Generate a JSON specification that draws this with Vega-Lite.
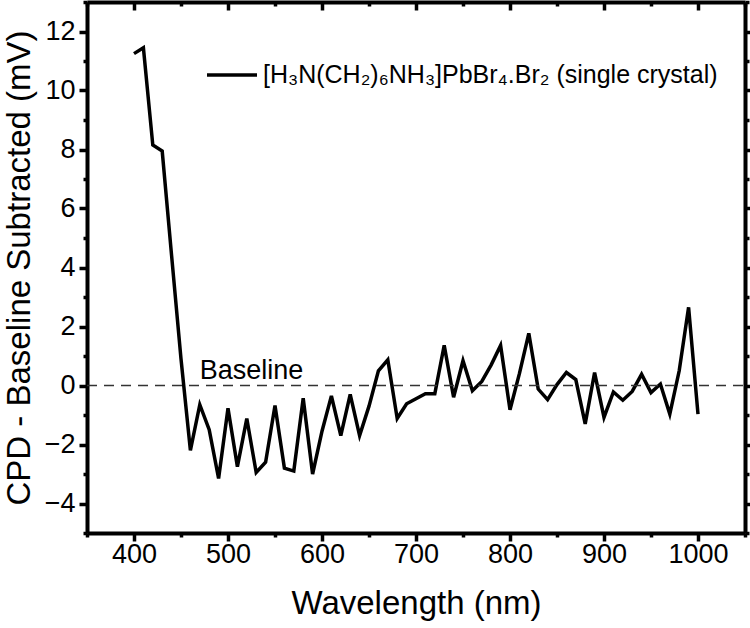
{
  "$schema": "https://vega.github.io/schema/vega-lite/v6.json",
  "width": 658,
  "height": 531,
  "autosize": "none",
  "padding": {"left": 87, "top": 2, "right": 5, "bottom": 95},
  "background": "white",
  "config": {
    "view": {"stroke": null},
    "font": "Liberation Sans",
    "axis": {
      "domainColor": "black",
      "domainWidth": 4,
      "tickColor": "black",
      "tickWidth": 3.5,
      "labelColor": "black",
      "titleColor": "black",
      "grid": false,
      "labelFont": "Liberation Sans",
      "titleFont": "Liberation Sans",
      "titleFontWeight": "normal",
      "labelFontSize": 27,
      "titleFontSize": 33
    }
  },
  "data": {
    "values": [
      {"wavelength": 400, "cpd": 11.25},
      {"wavelength": 410, "cpd": 11.45},
      {"wavelength": 420, "cpd": 8.15},
      {"wavelength": 430, "cpd": 7.95},
      {"wavelength": 440, "cpd": 4.4},
      {"wavelength": 450, "cpd": 0.9},
      {"wavelength": 460, "cpd": -2.2},
      {"wavelength": 470, "cpd": -0.65},
      {"wavelength": 480, "cpd": -1.5},
      {"wavelength": 490, "cpd": -3.15},
      {"wavelength": 500, "cpd": -0.77},
      {"wavelength": 510, "cpd": -2.75},
      {"wavelength": 520, "cpd": -1.12},
      {"wavelength": 530, "cpd": -2.95},
      {"wavelength": 540, "cpd": -2.6},
      {"wavelength": 550, "cpd": -0.68},
      {"wavelength": 560, "cpd": -2.8},
      {"wavelength": 570, "cpd": -2.9},
      {"wavelength": 580, "cpd": -0.43},
      {"wavelength": 590, "cpd": -3.0},
      {"wavelength": 600, "cpd": -1.55},
      {"wavelength": 610, "cpd": -0.35},
      {"wavelength": 620, "cpd": -1.7},
      {"wavelength": 630, "cpd": -0.3},
      {"wavelength": 640, "cpd": -1.7},
      {"wavelength": 650, "cpd": -0.7},
      {"wavelength": 660, "cpd": 0.5},
      {"wavelength": 670, "cpd": 0.87},
      {"wavelength": 680, "cpd": -1.12},
      {"wavelength": 690, "cpd": -0.62},
      {"wavelength": 700, "cpd": -0.45},
      {"wavelength": 710, "cpd": -0.28},
      {"wavelength": 720, "cpd": -0.28},
      {"wavelength": 730, "cpd": 1.36},
      {"wavelength": 740, "cpd": -0.4},
      {"wavelength": 750, "cpd": 0.84},
      {"wavelength": 760, "cpd": -0.18},
      {"wavelength": 770, "cpd": 0.14},
      {"wavelength": 780, "cpd": 0.7},
      {"wavelength": 790, "cpd": 1.36},
      {"wavelength": 800, "cpd": -0.82},
      {"wavelength": 810, "cpd": 0.4},
      {"wavelength": 820, "cpd": 1.77},
      {"wavelength": 830, "cpd": -0.12},
      {"wavelength": 840, "cpd": -0.48},
      {"wavelength": 850, "cpd": 0.03},
      {"wavelength": 860, "cpd": 0.44},
      {"wavelength": 870, "cpd": 0.2},
      {"wavelength": 880, "cpd": -1.3},
      {"wavelength": 890, "cpd": 0.44},
      {"wavelength": 900, "cpd": -1.08},
      {"wavelength": 910, "cpd": -0.22},
      {"wavelength": 920, "cpd": -0.5},
      {"wavelength": 930, "cpd": -0.2},
      {"wavelength": 940, "cpd": 0.38},
      {"wavelength": 950, "cpd": -0.24},
      {"wavelength": 960, "cpd": 0.05},
      {"wavelength": 970, "cpd": -0.97},
      {"wavelength": 980, "cpd": 0.5},
      {"wavelength": 990, "cpd": 2.65},
      {"wavelength": 1000, "cpd": -0.97}
    ]
  },
  "resolve": {"axis": {"x": "independent", "y": "independent"}},
  "layer": [
    {
      "mark": {"type": "line", "strokeWidth": 3.5, "strokeJoin": "miter"},
      "encoding": {
        "x": {
          "field": "wavelength",
          "type": "quantitative",
          "scale": {"domain": [350, 1050], "nice": false, "zero": false},
          "axis": {
            "orient": "bottom",
            "title": "Wavelength (nm)",
            "format": "d",
            "values": [350, 400, 450, 500, 550, 600, 650, 700, 750, 800, 850, 900, 950, 1000, 1050],
            "labelExpr": "datum.value % 100 === 0 && datum.value >= 400 && datum.value <= 1000 ? datum.label : ''",
            "tickSize": {"condition": {"test": "datum.value % 100 === 0", "value": 8}, "value": 4},
            "labelPadding": 0,
            "titlePadding": 20,
            "labelFlush": false
          }
        },
        "y": {
          "field": "cpd",
          "type": "quantitative",
          "scale": {"domain": [-5, 13], "nice": false, "zero": false},
          "axis": {
            "orient": "left",
            "title": "CPD - Baseline Subtracted (mV)",
            "values": [-5, -4, -3, -2, -1, 0, 1, 2, 3, 4, 5, 6, 7, 8, 9, 10, 11, 12, 13],
            "labelExpr": "datum.value % 2 === 0 && datum.value >= -4 && datum.value <= 12 ? datum.label : ''",
            "tickSize": {"condition": {"test": "datum.value % 2 === 0", "value": 8}, "value": 4},
            "labelPadding": 4,
            "titlePadding": 8,
            "labelFlush": false
          }
        },
        "color": {
          "datum": "[H₃N(CH₂)₆NH₃]PbBr₄.Br₂ (single crystal)",
          "type": "nominal",
          "scale": {"range": ["black"]},
          "legend": {
            "title": null,
            "orient": "none",
            "legendX": 118,
            "legendY": 46,
            "symbolType": "stroke",
            "symbolSize": 2500,
            "symbolStrokeWidth": 3.5,
            "labelFontSize": 25,
            "labelFont": "Liberation Sans",
            "labelColor": "black",
            "labelLimit": 0,
            "labelOffset": 4
          }
        }
      }
    },
    {
      "data": {"values": [{"level": 0}]},
      "mark": {"type": "rule", "color": "#333333", "strokeWidth": 1.5, "strokeDash": [10, 7]},
      "encoding": {
        "y": {
          "field": "level",
          "type": "quantitative",
          "axis": {
            "orient": "right",
            "title": null,
            "values": [-5, -4, -3, -2, -1, 0, 1, 2, 3, 4, 5, 6, 7, 8, 9, 10, 11, 12, 13],
            "labels": false,
            "tickSize": {"condition": {"test": "datum.value % 2 === 0", "value": 8}, "value": 4}
          }
        },
        "x": {
          "datum": 350,
          "type": "quantitative",
          "axis": {
            "orient": "top",
            "title": null,
            "values": [350, 400, 450, 500, 550, 600, 650, 700, 750, 800, 850, 900, 950, 1000, 1050],
            "labels": false,
            "tickSize": {"condition": {"test": "datum.value % 100 === 0", "value": -8}, "value": -4}
          }
        },
        "x2": {"datum": 1050}
      }
    },
    {
      "data": {"values": [{"label": "Baseline", "wavelength": 470, "level": 0}]},
      "mark": {"type": "text", "align": "left", "baseline": "alphabetic", "fontSize": 27, "font": "Liberation Sans", "color": "black", "dy": -7},
      "encoding": {
        "x": {"field": "wavelength", "type": "quantitative", "axis": null},
        "y": {"field": "level", "type": "quantitative", "axis": null},
        "text": {"field": "label"}
      }
    }
  ]
}
